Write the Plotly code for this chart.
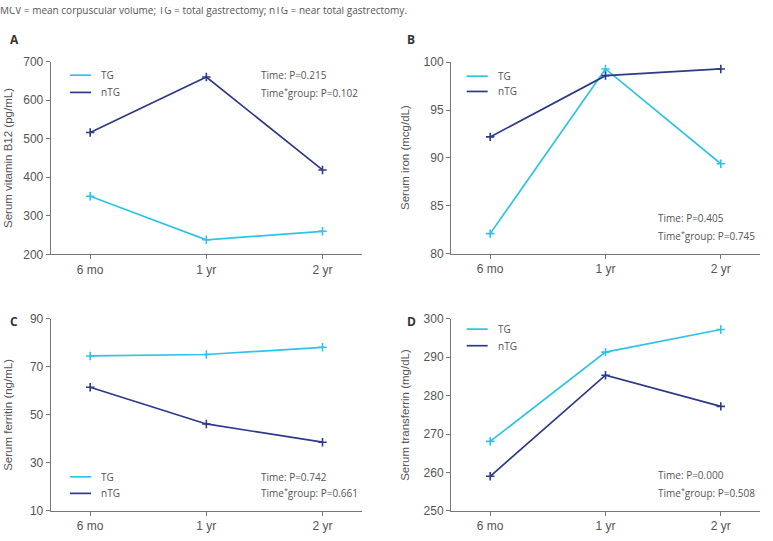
import plotly.graph_objects as go

W, H = 773, 541

categories = ["6 mo", "1 yr", "2 yr"]

# Panel A: Serum vitamin B12
a_tg = [351, 238, 260]
a_ntg = [516, 660, 419]
# Panel B: Serum iron
b_tg = [82.1, 99.3, 89.4]
b_ntg = [92.2, 98.6, 99.3]
# Panel C: Serum ferritin
c_tg = [74.5, 75.1, 78.1]
c_ntg = [61.5, 46.2, 38.6]
# Panel D: Serum transferrin
d_tg = [268.1, 291.3, 297.2]
d_ntg = [259.0, 285.3, 277.2]

y_titles = ["Serum vitamin B12 (pg/mL)", "Serum iron (mcg/dL)",
            "Serum ferritin (ng/mL)", "Serum transferrin (mg/dL)"]
y_ranges = [[200, 700], [80, 100], [10, 90], [250, 300]]
y_dticks = [100, 5, 20, 10]
p_time = ["0.215", "0.405", "0.742", "0.000"]
p_group = ["0.102", "0.745", "0.661", "0.508"]
panel_labels = ["A", "B", "C", "D"]
caption = "MCV = mean corpuscular volume; TG = total gastrectomy; nTG = near total gastrectomy."

TG_COLOR = "#2EC3E8"
NTG_COLOR = "#2C3A88"
AX_COLOR = "#777777"
TXT = "#555555"
TICK_FONT = "Liberation Sans"

def fx(px):
    return px / W

def fy(py):
    return 1 - py / H

boxes = [
    (50.7, 362, 56, 254),
    (451, 760, 56.7, 253.3),
    (50.7, 362, 320, 517.3),
    (451, 760, 320, 517.3),
]

data = [(a_tg, a_ntg), (b_tg, b_ntg), (c_tg, c_ntg), (d_tg, d_ntg)]

fig = go.Figure()
layout = dict(width=W, height=H, margin=dict(l=0, r=0, t=0, b=0),
              paper_bgcolor="white", plot_bgcolor="white", showlegend=False)
annotations = []
shapes = []

legend_pos = [(70, 87.7, 70), (71, 86.7, 466.7), (482.3, 499.3, 70), (330.7, 347.7, 466.7)]
ann_pos = [(259, 70, 88), (655.7, 216.7, 235), (259, 482.3, 499.3), (655.7, 480.3, 499)]
label_pos = [(8, 33), (405, 33), (8, 323), (405, 323)]
ytitle_x = [8, 405, 8, 405]

for i in range(4):
    xa = "x" if i == 0 else f"x{i+1}"
    ya = "y" if i == 0 else f"y{i+1}"
    tg, ntg = data[i]
    for vals, col, name in [(tg, TG_COLOR, "TG"), (ntg, NTG_COLOR, "nTG")]:
        fig.add_trace(go.Scatter(
            x=categories, y=vals, mode="lines+markers", name=name,
            line=dict(color=col, width=1.7),
            marker=dict(symbol="cross-thin", size=6, line=dict(color=col, width=1.6)),
            xaxis=xa, yaxis=ya))
    l, r, t, b = boxes[i]
    xkey = "xaxis" if i == 0 else f"xaxis{i+1}"
    ykey = "yaxis" if i == 0 else f"yaxis{i+1}"
    layout[xkey] = dict(domain=[fx(l), fx(r)], anchor=ya, range=[-0.34, 2.34],
                        showline=True, linecolor=AX_COLOR, linewidth=1,
                        ticks="outside", ticklen=4, tickcolor=AX_COLOR,
                        showgrid=False, zeroline=False,
                        tickfont=dict(family=TICK_FONT, size=12, color=TXT),
                        fixedrange=True)
    layout[ykey] = dict(domain=[fy(b), fy(t)], anchor=xa, range=y_ranges[i],
                        dtick=y_dticks[i], tick0=y_ranges[i][0],
                        showline=True, linecolor=AX_COLOR, linewidth=1,
                        ticks="outside", ticklen=4, tickcolor=AX_COLOR,
                        showgrid=False, zeroline=False,
                        tickfont=dict(family=TICK_FONT, size=12, color=TXT),
                        fixedrange=True)
    annotations.append(dict(text=y_titles[i], x=fx(ytitle_x[i]), y=fy((t + b) / 2),
                            xref="paper", yref="paper", textangle=-90, showarrow=False,
                            xanchor="center", yanchor="middle",
                            font=dict(family=TICK_FONT, size=11.5, color=TXT)))
    annotations.append(dict(text=f"<b>{panel_labels[i]}</b>", x=fx(label_pos[i][0]), y=fy(label_pos[i][1]),
                            xref="paper", yref="paper", showarrow=False,
                            xanchor="left", yanchor="middle",
                            font=dict(family="Open Sans", size=12, color="#333333")))
    y1, y2, lx = legend_pos[i]
    for yy, col, name in [(y1, TG_COLOR, "TG"), (y2, NTG_COLOR, "nTG")]:
        shapes.append(dict(type="line", xref="paper", yref="paper",
                           x0=fx(lx), x1=fx(lx + 21), y0=fy(yy), y1=fy(yy),
                           line=dict(color=col, width=1.7)))
        annotations.append(dict(text=name, x=fx(lx + 29), y=fy(yy), xref="paper", yref="paper",
                                showarrow=False, xanchor="left", yanchor="middle",
                                font=dict(family="Open Sans", size=10, color=TXT)))
    ax_, ay1, ay2 = ann_pos[i]
    annotations.append(dict(text=f"Time: P={p_time[i]}", x=fx(ax_), y=fy(ay1),
                            xref="paper", yref="paper", showarrow=False,
                            xanchor="left", yanchor="middle",
                            font=dict(family="Open Sans", size=10, color=TXT)))
    annotations.append(dict(text=f"Time<sup>*</sup>group: P={p_group[i]}", x=fx(ax_), y=fy(ay2),
                            xref="paper", yref="paper", showarrow=False,
                            xanchor="left", yanchor="middle",
                            font=dict(family="Open Sans", size=10, color=TXT)))

# caption strip at the very top, clipped by its own small subplot (reference shows it cut off)
fig.add_trace(go.Scatter(x=[0], y=[0.62], mode="text", text=[caption],
                         textposition="middle right", cliponaxis=True,
                         textfont=dict(family="Open Sans", size=10, color=TXT),
                         xaxis="x5", yaxis="y5", hoverinfo="skip"))
layout["xaxis5"] = dict(domain=[0, 1], anchor="y5", range=[0, 1], visible=False, fixedrange=True)
layout["yaxis5"] = dict(domain=[fy(12), 1], anchor="x5", range=[0, 1], visible=False, fixedrange=True)

layout["annotations"] = annotations
layout["shapes"] = shapes
fig.update_layout(**layout)
fig.write_html("out.html")
